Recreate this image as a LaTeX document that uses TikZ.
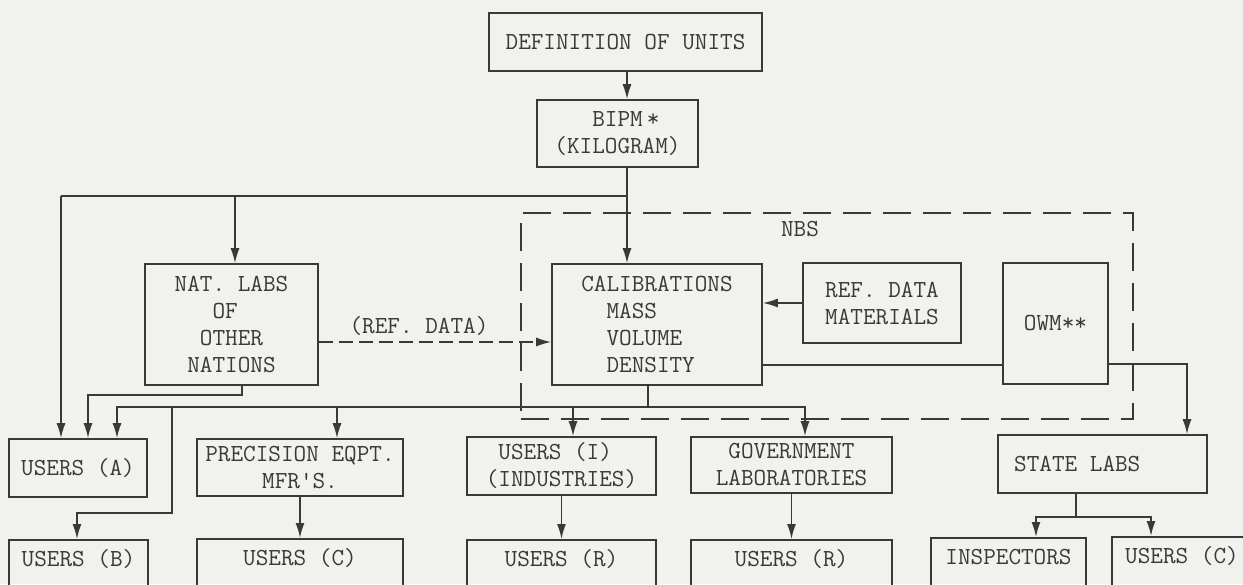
\documentclass[tikz,border=0pt]{standalone}
\usepackage{fontspec}
\usetikzlibrary{arrows.meta}
\definecolor{bg}{RGB}{241,241,238}
\definecolor{ink}{RGB}{60,56,56}
\newcommand\tfnt{\ttfamily\fontsize{24.5}{27}\selectfont}
\begin{document}
\begin{tikzpicture}[x=1pt,y=-1pt,
  ln/.style={line width=1.6pt, draw=ink},
  arr/.style={-{Latex[length=15pt,width=9pt]}},
  box/.style={draw=ink, line width=1.6pt, text=ink, font=\tfnt, inner sep=0pt, align=center},
  bbox/.style={box, inner ysep=0pt, text height=27pt, text depth=54pt},
  dbox/.style={draw=ink, line width=1.5pt, dash pattern=on 28pt off 12pt},
  txt/.style={text=ink, font=\tfnt, inner sep=0pt}]
\fill[bg] (0,0) rectangle (1243,584);
\useasboundingbox (0,0) rectangle (1243,584);
\clip (0,0) rectangle (1243,584);
% dashed NBS container
\node[dbox, minimum width=612pt, minimum height=206pt] (nbs) at (827,316) {};
\node[txt] (nbslab) at (800,229) {NBS};
% boxes
\node[box, minimum width=273pt, minimum height=58pt] (def) at (625.5,42) {DEFINITION OF UNITS};
\node[box, minimum width=161pt, minimum height=67pt, align=left] (bipm) at (617.5,133.5) {\hphantom{XXX}BIPM\,*\\(KILOGRAM)};
\node[box, minimum width=173pt, minimum height=121pt, align=left] (nat) at (231.5,324.5) {NAT. LABS\\\hphantom{XXX}OF\\\hphantom{XX}OTHER\\\hphantom{X}NATIONS};
\node[box, minimum width=210pt, minimum height=121pt, align=left] (cal) at (657,324.5) {CALIBRATIONS\\\hphantom{XX}MASS\\\hphantom{XX}VOLUME\\\hphantom{XX}DENSITY};
\node[box, minimum width=158pt, minimum height=80pt, align=left] (ref) at (882,303) {REF. DATA\\MATERIALS};
\node[box, minimum width=105pt, minimum height=121pt] (owm) at (1055.5,323.5) {OWM**};
\node[box, minimum width=138pt, minimum height=58pt] (usA) at (78,468) {USERS (A)};
\node[box, minimum width=206pt, minimum height=57pt] (prec) at (300,467.5) {PRECISION EQPT.\\MFR'S.};
\node[box, minimum width=189pt, minimum height=58pt, align=left] (usI) at (561.5,466) {\hphantom{X}USERS (I)\\(INDUSTRIES)};
\node[box, minimum width=201pt, minimum height=56pt] (gov) at (791.5,465) {GOVERNMENT\\LABORATORIES};
\node[box, minimum width=209pt, minimum height=58pt] (state) at (1102.5,464) {STATE LABS\hphantom{XXXX}};
% bottom row
\node[bbox, minimum width=139pt, anchor=north] (usB) at (78.5,539) {USERS (B)};
\node[bbox, minimum width=206pt, anchor=north] (usC1) at (300,538) {USERS (C)};
\node[bbox, minimum width=189pt, anchor=north] (usR1) at (561.5,539) {USERS (R)};
\node[bbox, minimum width=201pt, anchor=north] (usR2) at (791.5,539) {USERS (R)};
\node[bbox, minimum width=155pt, anchor=north] (insp) at (1008.5,537) {INSPECTORS};
\node[bbox, minimum width=140pt, anchor=north] (usC2) at (1182,536) {USERS (C)};
% coordinates
\coordinate (j1) at (627,196);
\coordinate (j2) at (235,196);
\coordinate (lc) at (61,196);
\coordinate (n1) at (242,395);
\coordinate (n2) at (88,395);
\coordinate (c1) at (648,407);
\coordinate (hA) at (117,407);
\coordinate (hB) at (172,407);
\coordinate (hP) at (337,407);
\coordinate (hI) at (573,407);
\coordinate (hG) at (805,407);
\coordinate (b1) at (172,513);
\coordinate (b2) at (77,513);
\coordinate (s0) at (1076,517);
\coordinate (s1) at (1036,517);
\coordinate (s2) at (1151,517);
\coordinate (o1) at (1187,364);
\coordinate (co) at (880,365);
\coordinate (rd) at (400,342);
% connectors
\draw[ln,arr] (def.south -| j1) -- (bipm.north -| j1);
\draw[ln] (bipm.south -| j1) -- (j1) -- (lc);
\draw[ln,arr] (lc) -- (lc |- usA.north);
\draw[ln,arr] (j2) -- (j2 |- nat.north);
\draw[ln,arr] (j1) -- (j1 |- cal.north);
\draw[ln,arr] (nat.south -| n1) -- (n1) -- (n2) -- (n2 |- usA.north);
\draw[ln] (cal.south -| c1) -- (c1);
\draw[ln,arr] (c1) -- (hA) -- (hA |- usA.north);
\draw[ln,arr] (c1) -- (hG) -- (hG |- gov.north);
\draw[ln,arr] (hP) -- (hP |- prec.north);
\draw[ln,arr] (hI) -- (hI |- usI.north);
\draw[ln,arr] (hB) -- (b1) -- (b2) -- (b2 |- usB.north);
\draw[ln,arr] (prec.south) -- (usC1.north);
\draw[ln,arr] (usI.south) -- (usR1.north);
\draw[ln,arr] (gov.south) -- (usR2.north);
\draw[ln] (state.south -| s0) -- (s0);
\draw[ln,arr] (s0) -- (s1) -- (s1 |- insp.north);
\draw[ln,arr] (s0) -- (s2) -- (s2 |- usC2.north);
\draw[ln,arr] (owm.east |- o1) -- (o1) -- (o1 |- state.north);
\draw[ln] (cal.east |- co) -- (owm.west |- co);
\draw[ln,arr] (ref.west) -- (ref.west -| cal.east);
\draw[ln,arr,dash pattern=on 14pt off 6pt] (nat.east |- rd) -- (cal.west |- rd);
\node[txt] (rdlab) at (419,326) {(REF. DATA)};
\end{tikzpicture}
\end{document}
